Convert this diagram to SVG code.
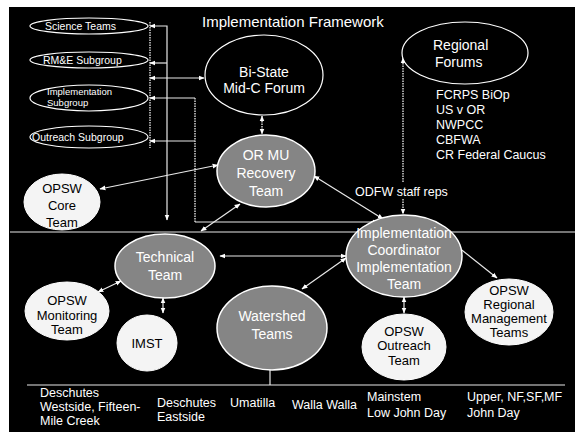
<svg xmlns="http://www.w3.org/2000/svg" width="575" height="432" viewBox="0 0 575 432">
<style>
text{font-family:"Liberation Sans",Arial,sans-serif;}
.t{fill:#fff;font-size:14px;}
.ti{fill:#fff;font-size:15px;}
.tw{fill:#fff;font-size:12.5px;}
.sm{fill:#fff;font-size:10.5px;}
.xs{fill:#fff;font-size:9.5px;}
.bk{fill:#000;font-size:13px;}
.gt{fill:#fff;font-size:14px;text-anchor:middle;}
.ln{stroke:#e8e8e8;stroke-width:1.2;fill:none;}
.dt{stroke:#d0d0d0;stroke-width:1.5;fill:none;stroke-dasharray:1.5,1;}
.oe{fill:#000;stroke:#fff;stroke-width:1.2;}
.ge{fill:#858585;stroke:#fff;stroke-width:1.5;}
.we{fill:#f4f4f4;stroke:#fff;stroke-width:1;}
</style>
<defs>
<marker id="ah" viewBox="0 0 10 10" refX="9" refY="5" markerWidth="6" markerHeight="6" orient="auto-start-reverse" markerUnits="userSpaceOnUse">
<path d="M0,1 L10,5 L0,9 z" fill="#fff"/>
</marker>
</defs>
<rect x="0" y="0" width="575" height="432" fill="#fff"/>
<rect x="9" y="7" width="566" height="425" fill="#000"/>
<text x="202" y="27" class="ti">Implementation Framework</text>

<g id="connectors">
<line class="ln" x1="10" y1="232" x2="575" y2="232"/>
<line class="dt" x1="150" y1="22" x2="150" y2="148"/>
<path class="ln" d="M150,26 H167 V220" marker-start="url(#ah)" marker-end="url(#ah)"/>
<path class="ln" d="M167,63 H150" marker-end="url(#ah)"/>
<line class="ln" x1="150" y1="78" x2="204" y2="78" marker-start="url(#ah)" marker-end="url(#ah)"/>
<path class="ln" d="M195,98 H150" marker-end="url(#ah)"/>
<path class="ln" d="M195,141 H150" marker-end="url(#ah)"/>
<line class="dt" x1="195" y1="98" x2="195" y2="222"/>
<path class="ln" d="M195,222 H378" marker-end="url(#ah)"/>
<line class="ln" x1="100" y1="189" x2="218" y2="165" marker-start="url(#ah)" marker-end="url(#ah)"/>
<line class="ln" x1="240" y1="204" x2="201" y2="231" marker-start="url(#ah)" marker-end="url(#ah)"/>
<line class="ln" x1="314" y1="176" x2="383" y2="219" marker-start="url(#ah)" marker-end="url(#ah)"/>
<line class="dt" x1="262" y1="116" x2="262" y2="134" marker-start="url(#ah)" marker-end="url(#ah)"/>
<line class="dt" x1="403" y1="58" x2="403" y2="183" marker-start="url(#ah)"/>
<line class="dt" x1="403" y1="199" x2="403" y2="214" marker-end="url(#ah)"/>
<line class="ln" x1="220" y1="256" x2="346" y2="256" marker-start="url(#ah)" marker-end="url(#ah)"/>
<line class="ln" x1="98" y1="292" x2="121" y2="281" marker-start="url(#ah)" marker-end="url(#ah)"/>
<line class="ln" x1="163" y1="298" x2="163" y2="313" marker-start="url(#ah)" marker-end="url(#ah)"/>
<line class="ln" x1="302" y1="289" x2="346" y2="258" marker-start="url(#ah)" marker-end="url(#ah)"/>
<line class="ln" x1="404" y1="297" x2="404" y2="313" marker-start="url(#ah)" marker-end="url(#ah)"/>
<line class="ln" x1="453" y1="243" x2="497" y2="278" marker-start="url(#ah)" marker-end="url(#ah)"/>
<line class="ln" x1="270" y1="370" x2="270" y2="385"/>
<line class="ln" x1="27" y1="385" x2="565" y2="385"/>
</g>

<g id="science-teams">
<ellipse class="oe" cx="89" cy="26" rx="59" ry="8"/>
<text x="45" y="30" class="sm">Science Teams</text>
</g>
<g id="rme-subgroup">
<ellipse class="oe" cx="89" cy="60" rx="59" ry="8"/>
<text x="43" y="64" class="sm">RM&amp;E Subgroup</text>
</g>
<g id="implementation-subgroup">
<ellipse class="oe" cx="89" cy="98" rx="59" ry="13"/>
<text x="47" y="95" class="xs">Implementation</text>
<text x="47" y="106" class="xs">Subgroup</text>
</g>
<g id="outreach-subgroup">
<ellipse class="oe" cx="89" cy="137" rx="59" ry="11"/>
<text x="32" y="141" class="sm">Outreach Subgroup</text>
</g>

<g id="bi-state">
<ellipse class="oe" cx="264" cy="75" rx="59" ry="40"/>
<text x="264" y="77" class="gt">Bi-State</text>
<text x="264" y="93" class="gt">Mid-C Forum</text>
</g>

<g id="regional-forums">
<ellipse class="oe" cx="465" cy="53" rx="63" ry="31"/>
<text x="433" y="50" class="t">Regional</text>
<text x="435" y="67" class="t">Forums</text>
<text x="436" y="99" class="tw">FCRPS BiOp</text>
<text x="436" y="114" class="tw">US v OR</text>
<text x="436" y="129" class="tw">NWPCC</text>
<text x="436" y="144" class="tw">CBFWA</text>
<text x="436" y="159" class="tw">CR Federal Caucus</text>
</g>

<g id="or-mu">
<ellipse class="ge" cx="266" cy="171" rx="49" ry="36"/>
<text x="266" y="160" class="gt">OR MU</text>
<text x="266" y="178" class="gt">Recovery</text>
<text x="266" y="196" class="gt">Team</text>
</g>

<text x="355" y="196" class="tw">ODFW staff reps</text>

<g id="opsw-core">
<ellipse class="we" cx="62" cy="202" rx="38" ry="28"/>
<text x="62" y="193" class="bk" text-anchor="middle">OPSW</text>
<text x="62" y="210" class="bk" text-anchor="middle">Core</text>
<text x="62" y="227" class="bk" text-anchor="middle">Team</text>
</g>

<g id="technical">
<ellipse class="ge" cx="165" cy="266" rx="50" ry="32"/>
<text x="165" y="262" class="gt">Technical</text>
<text x="165" y="280" class="gt">Team</text>
</g>

<g id="implementation-team">
<ellipse class="ge" cx="404" cy="256" rx="58" ry="41"/>
<text x="404" y="238" class="gt">Implementation</text>
<text x="404" y="255" class="gt">Coordinator</text>
<text x="404" y="272" class="gt">Implementation</text>
<text x="404" y="289" class="gt">Team</text>
</g>

<g id="opsw-monitoring">
<ellipse class="we" cx="67" cy="311" rx="42" ry="29"/>
<text x="67" y="305" class="bk" text-anchor="middle">OPSW</text>
<text x="67" y="320" class="bk" text-anchor="middle">Monitoring</text>
<text x="67" y="334" class="bk" text-anchor="middle">Team</text>
</g>

<g id="imst">
<ellipse class="we" cx="147" cy="343" rx="30" ry="28"/>
<text x="147" y="348" class="bk" text-anchor="middle">IMST</text>
</g>

<g id="watershed">
<ellipse class="ge" cx="272" cy="328" rx="55" ry="42"/>
<text x="272" y="321" class="gt">Watershed</text>
<text x="272" y="339" class="gt">Teams</text>
</g>

<g id="opsw-outreach">
<ellipse class="we" cx="404" cy="347" rx="42" ry="33"/>
<text x="404" y="336" class="bk" text-anchor="middle">OPSW</text>
<text x="404" y="350" class="bk" text-anchor="middle">Outreach</text>
<text x="404" y="365" class="bk" text-anchor="middle">Team</text>
</g>

<g id="opsw-regional">
<ellipse class="we" cx="509" cy="312" rx="44" ry="33"/>
<text x="509" y="295" class="bk" text-anchor="middle">OPSW</text>
<text x="509" y="309" class="bk" text-anchor="middle">Regional</text>
<text x="509" y="323" class="bk" text-anchor="middle">Management</text>
<text x="509" y="337" class="bk" text-anchor="middle">Teams</text>
</g>

<g id="watershed-list">
<text x="40" y="397" class="tw">Deschutes</text>
<text x="40" y="411" class="tw">Westside, Fifteen-</text>
<text x="40" y="425" class="tw">Mile Creek</text>
<text x="157" y="407" class="tw">Deschutes</text>
<text x="157" y="421" class="tw">Eastside</text>
<text x="230" y="407" class="tw">Umatilla</text>
<text x="292" y="409" class="tw">Walla Walla</text>
<text x="367" y="401" class="tw">Mainstem</text>
<text x="367" y="417" class="tw">Low John Day</text>
<text x="467" y="401" class="tw">Upper, NF,SF,MF</text>
<text x="467" y="417" class="tw">John Day</text>
</g>
</svg>
